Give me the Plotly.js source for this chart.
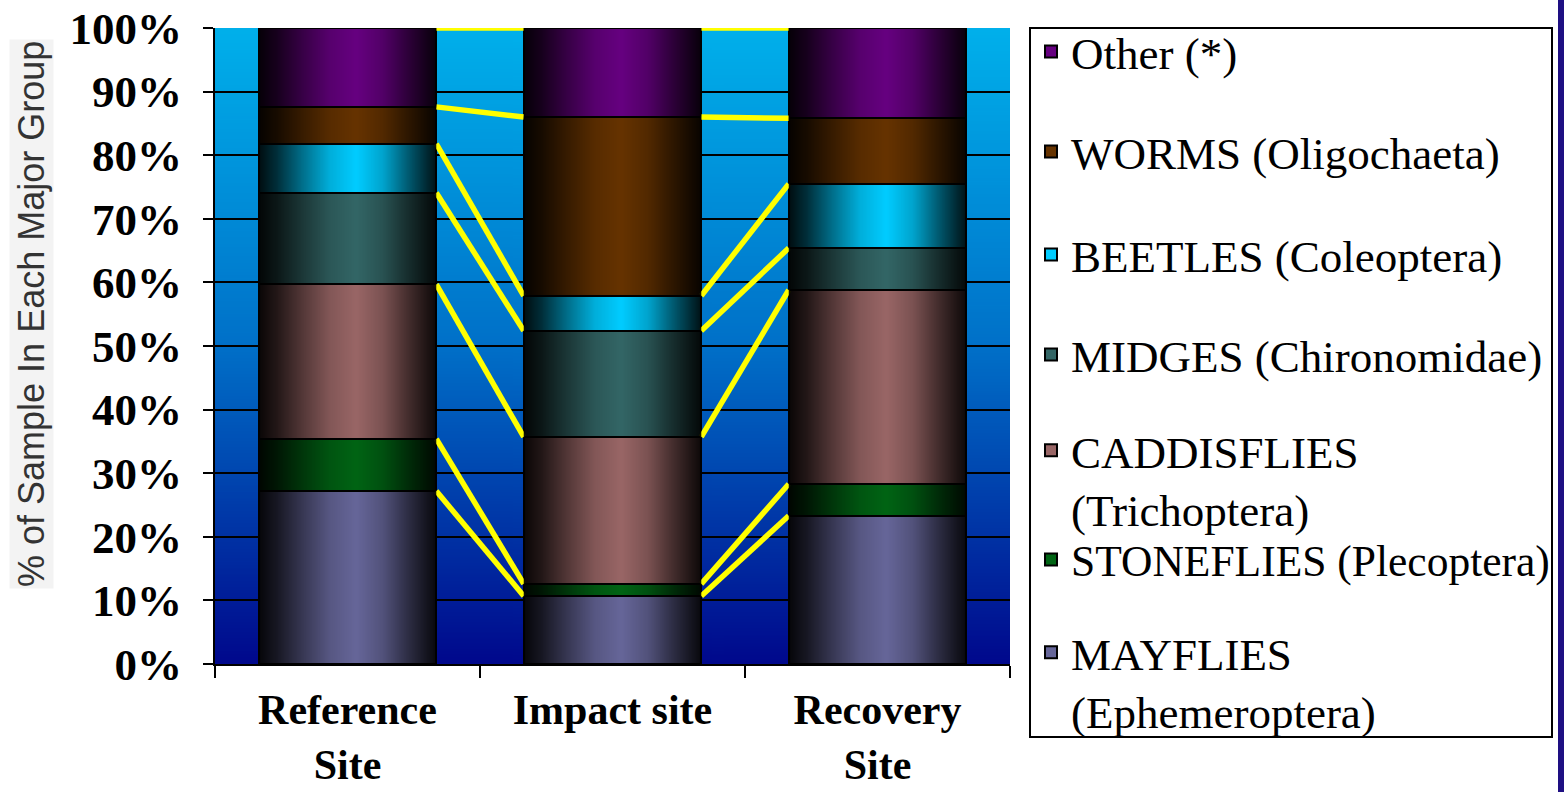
<!DOCTYPE html>
<html>
<head>
<meta charset="utf-8">
<script src="https://cdn.plot.ly/plotly-3.0.1.min.js"></script>
<style>
html,body{margin:0;padding:0;background:#ffffff;}
#chart{width:1564px;height:792px;}
</style>
</head>
<body>
<div id="chart"></div>
<script>
// ---------- data ----------
const sites = ['Reference<br>Site', 'Impact site', 'Recovery<br>Site'];
const seriesNames = [
  'MAYFLIES<br>(Ephemeroptera)',
  'STONEFLIES (Plecoptera)',
  'CADDISFLIES<br>(Trichoptera)',
  'MIDGES (Chironomidae)',
  'BEETLES (Coleoptera)',
  'WORMS (Oligochaeta)',
  'Other (*)'
];
const mayflies    = [27.2, 10.7, 23.3];
const stoneflies  = [ 8.2,  1.9,  5.0];
const caddisflies = [24.3, 23.1, 30.5];
const midges      = [14.4, 16.7,  6.6];
const beetles     = [ 7.7,  5.5, 10.1];
const worms       = [ 5.8, 28.1, 10.3];
const other       = [12.4, 14.0, 14.2];
const yTickVals   = [0,10,20,30,40,50,60,70,80,90,100];

// ---------- styling ----------
const seriesValues = [mayflies, stoneflies, caddisflies, midges, beetles, worms, other];
const seriesColors = ['#666699', '#006414', '#996666', '#336666', '#00CCFF', '#663300', '#660080'];
const W = 1564, H = 792;
const plotL = 215, plotR = 1010, plotT = 28, plotB = 664;
const barWidth = 0.67;
const px2x = px => (px - plotL) / (plotR - plotL);
const px2y = py => (plotB - py) / (plotB - plotT);

const xIdx = sites.map((_, i) => i);

// legend item vertical centre (px) per series (bottom->top order)
const legendLineY = [685, 563, 483, 358, 258, 155, 55];
const legendSize  = [45, 43.5, 45, 45, 45, 45, 45];
const legendLines = seriesNames.map(n => n.split('<br>').length);

const traces = [];
seriesValues.forEach((vals, k) => {
  traces.push({
    type: 'bar',
    name: seriesNames[k],
    x: xIdx,
    y: vals,
    width: barWidth,
    marker: {color: seriesColors[k], line: {color: '#000000', width: 2}},
    legend: k === 6 ? 'legend' : 'legend' + (7 - k),
    hoverinfo: 'skip'
  });
});

// cumulative tops for series lines
const cum = [];
let run = sites.map(() => 0);
seriesValues.forEach(vals => {
  run = run.map((r, j) => r + vals[j]);
  cum.push(run.slice());
});
const lx = [], ly = [];
cum.forEach(c => {
  for (let j = 0; j < sites.length - 1; j++) {
    lx.push(j + barWidth / 2, j + 1 - barWidth / 2, null);
    ly.push(c[j], c[j + 1], null);
  }
});
traces.push({
  type: 'scatter', mode: 'lines', x: lx, y: ly,
  line: {color: '#FFFF00', width: 5.5},
  showlegend: false, hoverinfo: 'skip', cliponaxis: false
});

// ---------- gradient images ----------
function bgGradient() {
  const c = document.createElement('canvas');
  c.width = 4; c.height = 400;
  const g = c.getContext('2d');
  const gr = g.createLinearGradient(0, 0, 0, 400);
  gr.addColorStop(0, 'rgb(0,176,235)');
  gr.addColorStop(0.5, 'rgb(0,112,200)');
  gr.addColorStop(1, 'rgb(0,8,140)');
  g.fillStyle = gr; g.fillRect(0, 0, 4, 400);
  return c.toDataURL();
}
function cylGradient() {
  const c = document.createElement('canvas');
  c.width = 200; c.height = 4;
  const g = c.getContext('2d');
  const gr = g.createLinearGradient(0, 0, 200, 0);
  gr.addColorStop(0, 'rgba(0,0,0,0.94)');
  gr.addColorStop(0.1, 'rgba(0,0,0,0.78)');
  gr.addColorStop(0.25, 'rgba(0,0,0,0.45)');
  gr.addColorStop(0.4, 'rgba(0,0,0,0.15)');
  gr.addColorStop(0.55, 'rgba(0,0,0,0)');
  gr.addColorStop(0.7, 'rgba(0,0,0,0.2)');
  gr.addColorStop(0.85, 'rgba(0,0,0,0.58)');
  gr.addColorStop(1, 'rgba(0,0,0,0.92)');
  g.fillStyle = gr; g.fillRect(0, 0, 200, 4);
  return c.toDataURL();
}
const cyl = cylGradient();
const images = [{
  source: bgGradient(), xref: 'paper', yref: 'paper', x: 0, y: 1,
  sizex: 1, sizey: 1, sizing: 'stretch', xanchor: 'left', yanchor: 'top', layer: 'below'
}];
xIdx.forEach(i => images.push({
  source: cyl, xref: 'x', yref: 'y', x: i - barWidth / 2, y: 100,
  sizex: barWidth, sizey: 100, sizing: 'stretch', xanchor: 'left', yanchor: 'top', layer: 'above'
}));

// ---------- layout ----------
const legendX = 1031 / W;
const layout = {
  width: W, height: H,
  margin: {l: plotL, r: W - plotR, t: plotT, b: H - plotB},
  paper_bgcolor: '#ffffff',
  plot_bgcolor: 'rgba(0,0,0,0)',
  barmode: 'stack',
  bargap: 0.33,
  showlegend: true,
  images: images,
  xaxis: {
    range: [-0.5, 2.5],
    tickmode: 'array', tickvals: xIdx, ticktext: sites,
    ticks: '', showgrid: false, zeroline: false,
    showline: true, linecolor: '#000000', linewidth: 2,
    tickfont: {family: 'Liberation Serif, Times New Roman, serif', size: 42, color: '#000000', weight: 'bold'},
    ticklabelstandoff: 8,
    minor: {tickmode: 'array', tickvals: [-0.5, 0.5, 1.5, 2.5], ticks: 'outside', ticklen: 12, tickwidth: 2, tickcolor: '#000000', showgrid: false},
    fixedrange: true
  },
  yaxis: {
    range: [0, 100],
    tickmode: 'array', tickvals: yTickVals, ticktext: yTickVals.map(v => v + '%'),
    ticks: 'outside', ticklen: 10, tickwidth: 2, tickcolor: '#000000',
    showgrid: true, gridcolor: '#000000', gridwidth: 2,
    zeroline: false, showline: true, linecolor: '#000000', linewidth: 2,
    tickfont: {family: 'Liberation Serif, Times New Roman, serif', size: 45, color: '#000000', weight: 'bold'},
    ticklabelstandoff: 12,
    fixedrange: true
  },
  annotations: [{
    text: '% of Sample In Each Major Group',
    xref: 'paper', yref: 'paper', x: px2x(31), y: px2y(314),
    xanchor: 'center', yanchor: 'middle', textangle: -90, showarrow: false,
    font: {family: 'Liberation Sans, Arial, sans-serif', size: 36, color: '#333333'},
    bgcolor: '#f3f3f3'
  }],
  shapes: [
    {type: 'rect', xref: 'paper', yref: 'paper', x0: px2x(1030), x1: px2x(1552), y0: px2y(28), y1: px2y(737),
     line: {color: '#000000', width: 2}, fillcolor: 'rgba(0,0,0,0)', layer: 'above'},
    {type: 'rect', xref: 'paper', yref: 'paper', x0: px2x(1558), x1: px2x(1566), y0: px2y(-2), y1: px2y(794),
     line: {width: 0}, fillcolor: '#1e0f82', layer: 'above'}
  ]
};
const legendOrder = ['legend', 'legend2', 'legend3', 'legend4', 'legend5', 'legend6', 'legend7'];
legendOrder.forEach((lg, n) => {
  const k = 6 - n;
  const lineH = legendSize[k] * 1.3;
  const topPx = legendLineY[k] - 10 - legendLines[k] * lineH / 2;
  layout[lg] = {
    xref: 'container', yref: 'container',
    x: legendX, y: 1 - topPx / H,
    xanchor: 'left', yanchor: 'top',
    bgcolor: 'rgba(0,0,0,0)', borderwidth: 0,
    font: {family: 'Liberation Serif, Times New Roman, serif', size: legendSize[k], color: '#000000'},
    valign: 'top', itemclick: false, itemdoubleclick: false
  };
});

Plotly.newPlot('chart', traces, layout, {displayModeBar: false, staticPlot: true});
</script>
</body>
</html>
